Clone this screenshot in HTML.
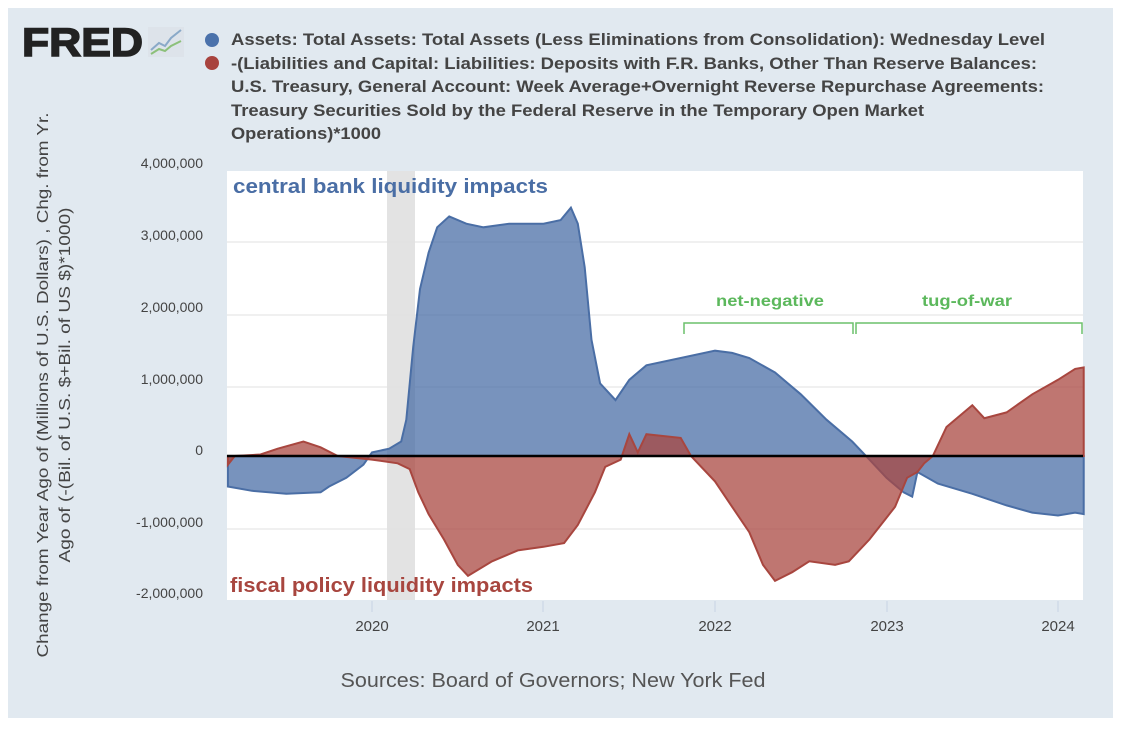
<!DOCTYPE html>
<html><head><meta charset="utf-8"><style>
body{margin:0;background:#fff;width:1122px;height:736px;overflow:hidden;font-family:"Liberation Sans",Arial,sans-serif}
</style></head><body>
<svg id="s" width="1122" height="736" xmlns="http://www.w3.org/2000/svg" font-family="Liberation Sans, Arial, sans-serif">
<rect x="8" y="8" width="1105" height="710" fill="#e1e9f0"/>
<text x="22" y="56" font-size="40" font-weight="bold" fill="#222" textLength="121" lengthAdjust="spacingAndGlyphs" stroke="#222" stroke-width="1.5">FRED</text>
<rect x="148" y="27" width="36" height="30" fill="#dde3ea"/>
<polyline points="151,50 159,43 165,46 171,38 181,30" fill="none" stroke="#8aa9c8" stroke-width="2"/>
<polyline points="151,54 159,49 165,51 171,46 181,41" fill="none" stroke="#8cc07a" stroke-width="2"/>
<circle cx="212" cy="40" r="7" fill="#4b72ab"/>
<circle cx="212" cy="63" r="7" fill="#a8433e"/>
<g font-size="17" font-weight="bold" fill="#444" lengthAdjust="spacingAndGlyphs">
<text x="231" y="45" textLength="814" lengthAdjust="spacingAndGlyphs">Assets: Total Assets: Total Assets (Less Eliminations from Consolidation): Wednesday Level</text>
<text x="231" y="69" textLength="806" lengthAdjust="spacingAndGlyphs">-(Liabilities and Capital: Liabilities: Deposits with F.R. Banks, Other Than Reserve Balances:</text>
<text x="231" y="92" textLength="813" lengthAdjust="spacingAndGlyphs">U.S. Treasury, General Account: Week Average+Overnight Reverse Repurchase Agreements:</text>
<text x="231" y="116" textLength="693" lengthAdjust="spacingAndGlyphs">Treasury Securities Sold by the Federal Reserve in the Temporary Open Market</text>
<text x="231" y="139" textLength="150" lengthAdjust="spacingAndGlyphs">Operations)*1000</text>
</g>
<rect x="227" y="171" width="856" height="429" fill="#fff"/>
<rect x="387" y="171" width="28" height="429" fill="#e3e3e3"/>
<g stroke="#e2e2e2" stroke-width="1">
<line x1="227" x2="1083" y1="242" y2="242"/><line x1="227" x2="1083" y1="315" y2="315"/>
<line x1="227" x2="1083" y1="387" y2="387"/><line x1="227" x2="1083" y1="529" y2="529"/>
</g>
<g font-size="14" fill="#444" text-anchor="end">
<text x="203" y="168">4,000,000</text><text x="203" y="240">3,000,000</text>
<text x="203" y="312">2,000,000</text><text x="203" y="384">1,000,000</text>
<text x="203" y="455">0</text><text x="203" y="527">-1,000,000</text><text x="203" y="598">-2,000,000</text>
</g>
<g font-size="15" fill="#444" text-anchor="middle">
<text x="372" y="631">2020</text><text x="543" y="631">2021</text><text x="715" y="631">2022</text>
<text x="887" y="631">2023</text><text x="1058" y="631">2024</text>
</g>
<g stroke="#c8d3e3"><line x1="372" x2="372" y1="601" y2="612"/><line x1="543" x2="543" y1="601" y2="612"/><line x1="715" x2="715" y1="601" y2="612"/><line x1="887" x2="887" y1="601" y2="612"/><line x1="1058" x2="1058" y1="601" y2="612"/></g>
<text transform="translate(48,385) rotate(-90)" font-size="16" fill="#444" text-anchor="middle" textLength="545" lengthAdjust="spacingAndGlyphs">Change from Year Ago of (Millions of U.S. Dollars) , Chg. from Yr.</text>
<text transform="translate(70,385) rotate(-90)" font-size="16" fill="#444" text-anchor="middle" textLength="355" lengthAdjust="spacingAndGlyphs">Ago of (-(Bil. of U.S. $+Bil. of US $)*1000)</text>
<text x="553" y="687" font-size="20" fill="#555" text-anchor="middle" textLength="425" lengthAdjust="spacingAndGlyphs">Sources: Board of Governors; New York Fed</text>
<path id="blue" fill="rgba(68,106,163,0.72)" stroke="#4a6ea5" stroke-width="2"/>
<path id="red" fill="rgba(168,70,64,0.74)" stroke="#a8463f" stroke-width="2"/>
<line x1="227" x2="1083" y1="456" y2="456" stroke="#000" stroke-width="2.5"/>
<text x="233" y="193" font-size="20" font-weight="bold" fill="#4a6ea5" textLength="315" lengthAdjust="spacingAndGlyphs">central bank liquidity impacts</text>
<text x="230" y="592" font-size="20" font-weight="bold" fill="#a8463f" textLength="303" lengthAdjust="spacingAndGlyphs">fiscal policy liquidity impacts</text>
<g fill="none" stroke="#6cc06c" stroke-width="1.5">
<polyline points="684,334 684,323 853,323 853,334"/>
<polyline points="856,334 856,323 1082,323 1082,334"/>
</g>
<g font-size="16" font-weight="bold" fill="#5cb85c">
<text x="716" y="306" textLength="108" lengthAdjust="spacingAndGlyphs">net-negative</text><text x="922" y="306" textLength="90" lengthAdjust="spacingAndGlyphs">tug-of-war</text>
</g>
</svg>
<script>
function X(t){return 372+(t-2020)*171.5}
function Y(v){return 456-v*72.6}
var B=[[2019.16,-0.42],[2019.3,-0.48],[2019.5,-0.52],[2019.7,-0.5],[2019.75,-0.42],[2019.85,-0.3],[2019.95,-0.12],[2020.0,0.05],[2020.1,0.1],[2020.17,0.2],[2020.2,0.5],[2020.24,1.5],[2020.28,2.3],[2020.33,2.8],[2020.38,3.15],[2020.45,3.3],[2020.55,3.2],[2020.65,3.15],[2020.8,3.2],[2021.0,3.2],[2021.1,3.25],[2021.16,3.42],[2021.2,3.2],[2021.24,2.6],[2021.28,1.6],[2021.33,1.0],[2021.42,0.77],[2021.5,1.05],[2021.6,1.25],[2021.8,1.35],[2022.0,1.45],[2022.1,1.42],[2022.2,1.35],[2022.35,1.15],[2022.5,0.85],[2022.65,0.5],[2022.8,0.2],[2022.9,-0.05],[2023.0,-0.3],[2023.1,-0.5],[2023.15,-0.56],[2023.18,-0.22],[2023.3,-0.38],[2023.5,-0.52],[2023.7,-0.68],[2023.85,-0.78],[2024.0,-0.82],[2024.1,-0.78],[2024.15,-0.8]];
var R=[[2019.16,-0.12],[2019.2,0.0],[2019.35,0.02],[2019.45,0.1],[2019.6,0.2],[2019.7,0.12],[2019.8,0.0],[2020.0,-0.05],[2020.15,-0.1],[2020.22,-0.18],[2020.27,-0.5],[2020.33,-0.8],[2020.42,-1.15],[2020.5,-1.5],[2020.56,-1.65],[2020.7,-1.45],[2020.85,-1.3],[2021.0,-1.25],[2021.12,-1.2],[2021.2,-0.95],[2021.3,-0.5],[2021.36,-0.15],[2021.45,-0.05],[2021.5,0.3],[2021.55,0.05],[2021.6,0.3],[2021.8,0.25],[2021.86,0.0],[2022.0,-0.35],[2022.1,-0.7],[2022.2,-1.05],[2022.28,-1.5],[2022.35,-1.72],[2022.45,-1.6],[2022.55,-1.45],[2022.7,-1.5],[2022.78,-1.45],[2022.9,-1.15],[2023.0,-0.85],[2023.05,-0.7],[2023.12,-0.3],[2023.18,-0.22],[2023.22,-0.1],[2023.27,0.0],[2023.35,0.4],[2023.5,0.7],[2023.57,0.52],[2023.7,0.6],[2023.85,0.85],[2024.0,1.05],[2024.1,1.2],[2024.15,1.22]];
function P(d){var s="M"+X(d[0][0])+","+Y(0);d.forEach(function(p){s+=" L"+X(p[0]).toFixed(1)+","+Y(p[1]).toFixed(1)});return s+" L"+X(d[d.length-1][0])+","+Y(0)+"Z"}
document.getElementById("blue").setAttribute("d",P(B));
document.getElementById("red").setAttribute("d",P(R));
</script>
</body></html>
